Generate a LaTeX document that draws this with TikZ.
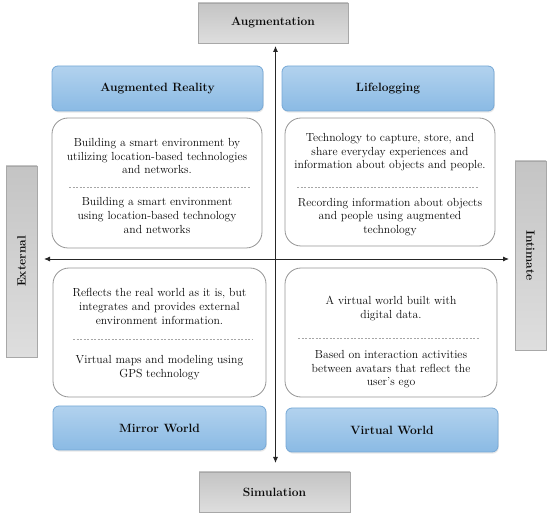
\documentclass[tikz,border=0pt]{standalone}
\usepackage{tikz}
\usetikzlibrary{arrows.meta,shadows}
\definecolor{bluetop}{RGB}{178,210,238}
\definecolor{bluebot}{RGB}{138,186,228}
\definecolor{blueline}{RGB}{118,168,214}
\definecolor{graytop}{RGB}{196,196,196}
\definecolor{graybot}{RGB}{222,222,222}
\definecolor{grayline}{RGB}{168,168,168}
\definecolor{boxline}{RGB}{150,150,150}
\definecolor{txt}{RGB}{10,10,10}
\tikzset{
  axisbox/.style={draw=grayline, line width=0.8pt, top color=graytop, bottom color=graybot,
    font=\bfseries\fontsize{12}{14}\selectfont, text=txt, inner sep=0pt},
  quadtitle/.style={draw=blueline, line width=0.8pt, rounded corners=6pt, top color=bluetop,
    bottom color=bluebot, font=\bfseries\fontsize{12}{14}\selectfont, text=txt, inner sep=0pt,
    drop shadow={opacity=0.18, shadow xshift=0.8pt, shadow yshift=-1.6pt}},
  descbox/.style={draw=boxline, line width=0.8pt, rounded corners=16pt, fill=white, inner sep=0pt},
  desctext/.style={align=center, font=\fontsize{11.7}{13.6}\selectfont, text=txt, inner sep=0pt},
  sepline/.style={draw=gray!70, dash pattern=on 2pt off 1.5pt, line width=0.5pt},
  axisarrow/.style={draw=black!85, line width=0.9pt, -{Latex[length=6pt,width=5pt]}}
}
\begin{document}
\begin{tikzpicture}[x=1pt,y=-1pt]
\useasboundingbox (0,0) rectangle (550,516);
% axis boxes
\node[axisbox, minimum width=150pt, minimum height=40pt] (aug) at (273,23) {Augmentation};
\node[axisbox, minimum width=151pt, minimum height=40pt] (sim) at (274.5,492) {Simulation};
\node[axisbox, minimum width=191pt, minimum height=31pt, rotate=90] (ext) at (21.5,261.5) {External};
\node[axisbox, minimum width=189pt, minimum height=31pt, rotate=-90] (int) at (530.5,255.5) {Intimate};
% quadrant titles
\node[quadtitle, minimum width=211pt, minimum height=45pt] (ar) at (157.5,88.5) {Augmented Reality};
\node[quadtitle, minimum width=212pt, minimum height=45pt] (ll) at (388,88.5) {Lifelogging};
\node[quadtitle, minimum width=213pt, minimum height=44pt] (mw) at (159.5,428) {Mirror World};
\node[quadtitle, minimum width=212pt, minimum height=44pt] (vw) at (392,430) {Virtual World};
% description boxes
\node[descbox, minimum width=210pt, minimum height=130pt] (tl) at (157,183) {};
\node[descbox, minimum width=210pt, minimum height=128pt] (tr) at (390,182) {};
\node[descbox, minimum width=213pt, minimum height=129pt] (bl) at (159.5,332.5) {};
\node[descbox, minimum width=212pt, minimum height=129pt] (br) at (391,332.5) {};
% texts
\node[desctext] (tla) at (157,156) {Building a smart environment by\\utilizing location-based technologies\\and networks.};
\node[desctext] (tlb) at (157,215.5) {Building a smart environment\\using location-based technology\\and networks};
\node[desctext] (tra) at (390,152.5) {Technology to capture, store, and\\share everyday experiences and\\information about objects and people.};
\node[desctext] (trb) at (390,217) {Recording information about objects\\and people using augmented\\technology};
\node[desctext] (bla) at (159.5,306.5) {Reflects the real world as it is, but\\integrates and provides external\\environment information.};
\node[desctext] (blb) at (159.5,367.5) {Virtual maps and modeling using\\GPS technology};
\node[desctext] (bra) at (391,308.5) {A virtual world built with\\digital data.};
\node[desctext] (brb) at (391,369.5) {Based on interaction activities\\between avatars that reflect the\\user's ego};
% separators
\coordinate (tlsl) at (69,187); \coordinate (tlsr) at (251,187);
\coordinate (trsl) at (297,187); \coordinate (trsr) at (479,187);
\coordinate (blsl) at (73,339); \coordinate (blsr) at (253,339);
\coordinate (brsl) at (298,338); \coordinate (brsr) at (480,338);
\draw[sepline] (tlsl) -- (tlsr);
\draw[sepline] (trsl) -- (trsr);
\draw[sepline] (blsl) -- (blsr);
\draw[sepline] (brsl) -- (brsr);
% axes
\coordinate (cx) at (275.5,259);
\coordinate (up) at (275.5,46);
\coordinate (dn) at (275.5,463);
\coordinate (lf) at (44,259);
\coordinate (rt) at (509,259);
\draw[axisarrow] (cx) -- (up);
\draw[axisarrow] (cx) -- (dn);
\draw[axisarrow] (cx) -- (lf);
\draw[axisarrow] (cx) -- (rt);
\end{tikzpicture}
\end{document}
